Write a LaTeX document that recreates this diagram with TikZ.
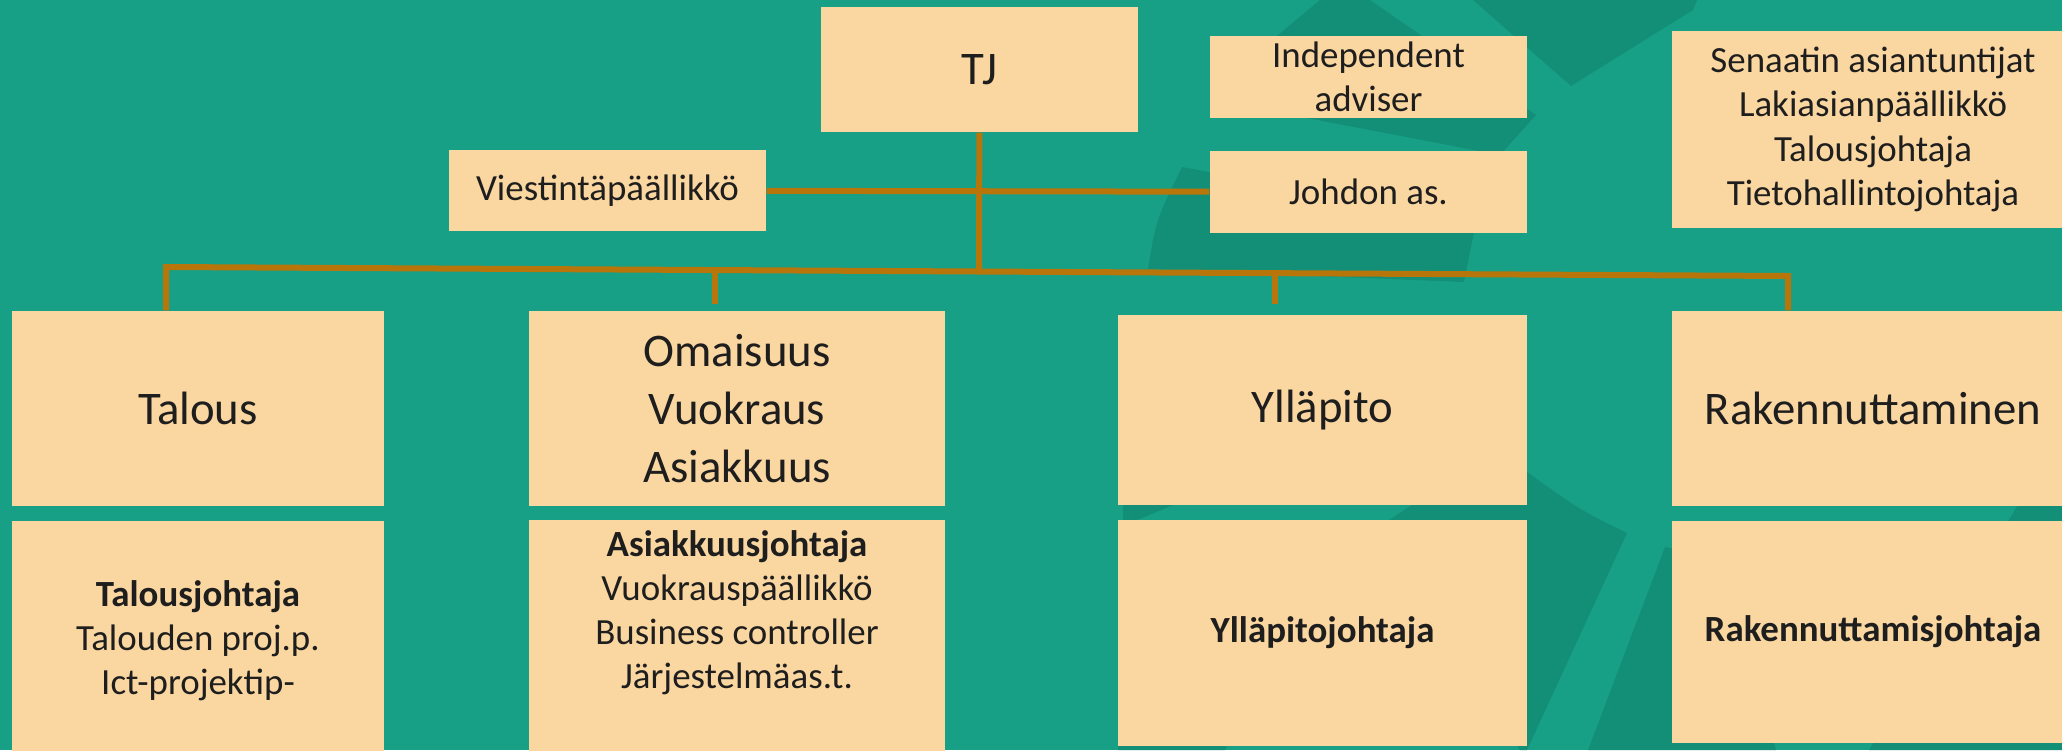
\documentclass[tikz,border=0pt]{standalone}
\usepackage{fontspec}
\setmainfont{Carlito}
\usepackage{tikz}
\definecolor{bgteal}{HTML}{17A086}
\definecolor{bgdark}{HTML}{148F77}
\definecolor{boxfill}{HTML}{FAD6A0}
\definecolor{linebrown}{HTML}{B8760A}
\definecolor{txt}{HTML}{1E1E1E}
\newcommand{\unitfont}{\fontsize{13.3}{16.4}\selectfont}
\newcommand{\stafffont}{\fontsize{10.5}{12.6}\selectfont}

\begin{document}
\begin{tikzpicture}[unit/.style={fill=boxfill,text=txt,align=center,inner sep=0pt,font=\unitfont},staff/.style={unit,font=\stafffont},link/.style={draw=linebrown,line width=0.06cm},shade/.style={fill=bgdark}]
\useasboundingbox (0,0) rectangle (20.62,7.5);
\fill[bgteal] (0,0) rectangle (20.62,7.5);
% faint logo in the background
\fill[shade] (13.20,7.50) -- (13.70,7.50) -- (15.36,6.35) -- (15.00,5.95) -- (13.07,6.32) -- (12.72,7.10) -- cycle;
\fill[shade] (14.73,7.50) -- (15.71,6.64) -- (16.93,7.40) -- (16.97,7.50) -- cycle;
\fill[shade] (11.82,5.83) -- (14.76,5.28) -- (14.64,4.68) -- (11.48,4.81) .. controls (11.56,5.30) .. (11.82,5.83) -- cycle;
\fill[shade] (11.23,2.55) -- (11.97,2.55) -- (11.23,2.24) -- cycle;
\fill[shade] (11.18,0.10) -- (12.30,0.10) -- (12.25,0) -- (11.18,0) -- cycle;
\fill[shade] (13.89,2.30) -- (14.12,2.45) -- (14.63,2.78) -- (15.27,2.78) .. controls (15.80,2.40) .. (16.27,2.17) -- (15.27,0) -- (15.20,0) -- cycle;
\fill[shade] (16.65,2.03) -- (17.20,1.93) -- (17.76,0) -- (15.88,0) -- cycle;
\fill[shade] (20.24,2.55) -- (20.62,2.55) -- (20.62,0) -- (18.69,0) -- cycle;

% top level
\node[unit,minimum width=3.17cm,minimum height=1.25cm] (tj) at (9.795,6.805) {TJ};
\node[staff,minimum width=3.17cm,minimum height=0.82cm] (indep) at (13.685,6.73) {Independent\\adviser};
\node[staff,minimum width=3.17cm,minimum height=0.82cm] (johdon) at (13.685,5.58) {Johdon as.};
\node[staff,minimum width=3.17cm,minimum height=0.80cm] (viest) at (6.075,5.595) {Viestintäpäällikkö};
\node[staff,minimum width=4.02cm,minimum height=1.97cm] (senaatti) at (18.73,6.205) {Senaatin asiantuntijat\\Lakiasianpäällikkö\\Talousjohtaja\\Tietohallintojohtaja};

% units
\node[unit,minimum width=3.72cm,minimum height=1.95cm] (talous) at (1.98,3.415) {Talous};
\node[unit,minimum width=4.16cm,minimum height=1.95cm] (omaisuus) at (7.37,3.415) {Omaisuus\\Vuokraus\\Asiakkuus};
\node[unit,minimum width=4.09cm,minimum height=1.90cm] (yllapito) at (13.225,3.40) {Ylläpito};
\node[unit,minimum width=4.02cm,minimum height=1.95cm] (rak) at (18.73,3.415) {Rakennuttaminen};

% heads of the units
\node[staff,minimum width=3.72cm,minimum height=2.39cm] (taljoht) at (1.98,1.095) {\textbf{Talousjohtaja}\\Talouden proj.p.\\Ict-projektip-};
\node[staff,minimum width=4.16cm,minimum height=2.40cm,text depth=0.61cm] (asjoht) at (7.37,1.10) {\textbf{Asiakkuusjohtaja}\\Vuokrauspäällikkö\\Business controller\\Järjestelmäas.t.};
\node[staff,minimum width=4.09cm,minimum height=2.26cm] (ylljoht) at (13.225,1.17) {\textbf{Ylläpitojohtaja}};
\node[staff,minimum width=4.02cm,minimum height=2.22cm] (rakjoht) at (18.73,1.18) {\textbf{Rakennuttamisjohtaja}};

% connectors
\coordinate (tjfoot) at (9.79,4.80);
\coordinate (busL) at (1.66,4.83);
\coordinate (busR) at (17.88,4.74);
\draw[link] (tj) -- (tjfoot);
\draw[link] (viest) -- (johdon);
\draw[link,line join=miter] (talous.north -| busL) -- (busL) -- (busR) -- (rak.north -| busR);
\foreach \x/\y/\unit/\gap in {7.15/4.80/omaisuus/0.06,12.75/4.77/yllapito/0.10} {
   \coordinate (drop) at (\x,\y);
   \draw[link] (drop) -- ([yshift=\gap cm]\unit.north -| drop);
}
\end{tikzpicture}
\end{document}
